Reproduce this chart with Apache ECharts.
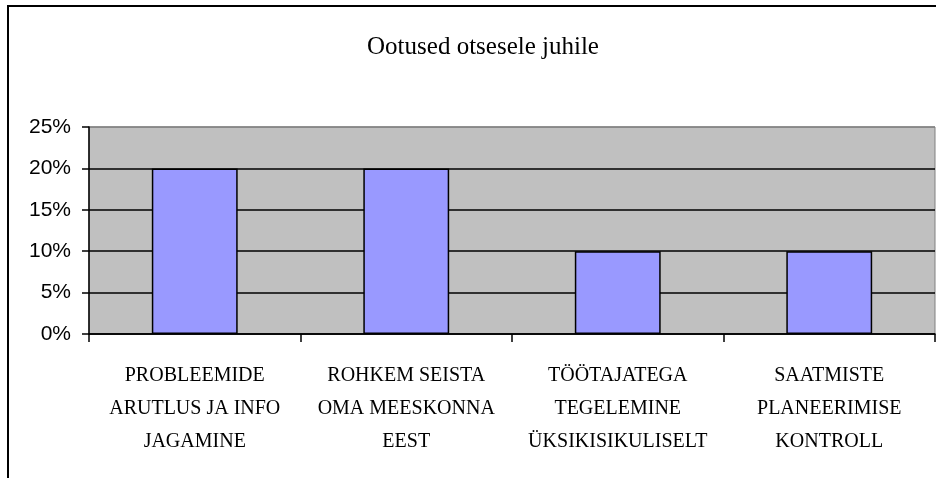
<!DOCTYPE html>
<html>
<head>
<meta charset="utf-8">
<script src="https://cdn.jsdelivr.net/npm/echarts@6/dist/echarts.min.js"></script>
<style>
html,body{margin:0;padding:0;background:#fff;}
#c{width:936px;height:478px;}
</style>
</head>
<body>
<div id="c"></div>
<script>
var chartTitle = 'Ootused otsesele juhile';
var categories = [
  'PROBLEEMIDE\nARUTLUS JA INFO\nJAGAMINE',
  'ROHKEM SEISTA\nOMA MEESKONNA\nEEST',
  'TÖÖTAJATEGA\nTEGELEMINE\nÜKSIKISIKULISELT',
  'SAATMISTE\nPLANEERIMISE\nKONTROLL'
];
var values = [20, 20, 10, 10];
var yMin = 0, yMax = 25, yStep = 5;

var chart = echarts.init(document.getElementById('c'), null, {renderer: 'canvas'});
chart.setOption({
  animation: false,
  backgroundColor: '#ffffff',
  title: {
    text: chartTitle,
    left: 478,
    top: 30,
    textAlign: 'center',
    textStyle: {
      fontFamily: '"Liberation Serif", "Times New Roman", serif',
      fontSize: 25,
      fontWeight: 'normal',
      color: '#000'
    }
  },
  graphic: [{
    type: 'rect',
    shape: {x: 8, y: 6, width: 1200, height: 1000},
    style: {fill: 'none', stroke: '#000', lineWidth: 2},
    silent: true,
    z: 100
  }],
  grid: {
    left: 89, top: 127, width: 846, height: 207,
    show: true,
    backgroundColor: '#C0C0C0',
    borderColor: '#808080',
    borderWidth: 1
  },
  xAxis: {
    type: 'category',
    data: categories,
    boundaryGap: true,
    axisLine: {show: true, lineStyle: {color: '#000', width: 1.5}},
    axisTick: {show: true, length: 8, lineStyle: {color: '#000', width: 1.5}},
    axisLabel: {
      interval: 0,
      margin: 25,
      fontFamily: '"Liberation Serif", "Times New Roman", serif',
      fontSize: 20,
      lineHeight: 33,
      color: '#000',
      align: 'center'
    },
    splitLine: {show: false}
  },
  yAxis: {
    type: 'value',
    min: yMin, max: yMax, interval: yStep,
    axisLine: {show: true, lineStyle: {color: '#000', width: 1.5}},
    axisTick: {show: true, length: 7, lineStyle: {color: '#000', width: 1.5}},
    axisLabel: {
      formatter: '{value}%',
      margin: 18,
      fontFamily: '"Liberation Sans", Arial, sans-serif',
      fontSize: 21,
      color: '#000'
    },
    splitLine: {
      show: true,
      lineStyle: {color: ['#000', '#000', '#000', '#000', '#000', '#808080'], width: 1.5}
    }
  },
  series: [{
    type: 'bar',
    data: values,
    barWidth: '40.6%',
    itemStyle: {color: '#9999FF', borderColor: '#000', borderWidth: 1.5}
  }]
});
</script>
</body>
</html>
